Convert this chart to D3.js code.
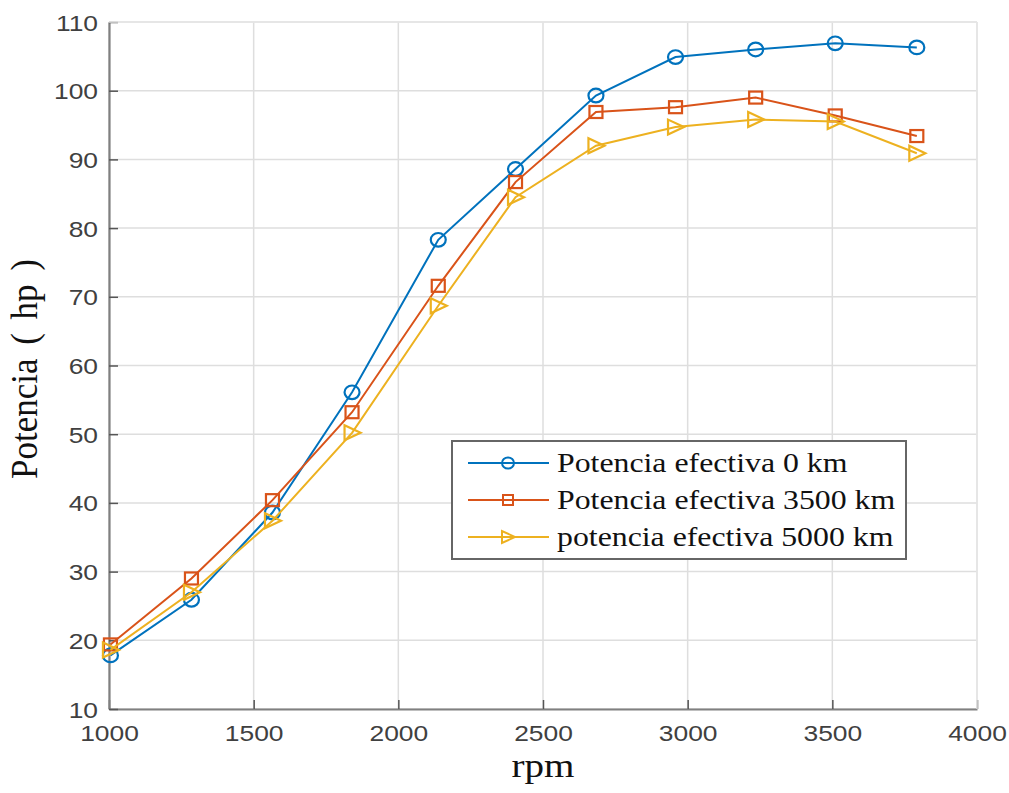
<!DOCTYPE html>
<html>
<head>
<meta charset="utf-8">
<script src="https://cdn.jsdelivr.net/npm/d3@7"></script>
<style>
  html, body { margin: 0; padding: 0; background: #fff; }
  svg { display: block; }
</style>
</head>
<body>
<div id="chart"></div>
<script>
// Engine speed (rpm) at each measurement
const rpm = [1005, 1285, 1565, 1840, 2138, 2405, 2683, 2958, 3235, 3510, 3792];
// Effective power (hp) at three mileages
const pot0km = [17.8, 25.9, 38.6, 56.1, 78.3, 88.6, 99.3, 104.9, 106.0, 106.9, 106.3];
const pot3500km = [19.4, 29.0, 40.4, 53.2, 71.6, 86.7, 96.9, 97.6, 99.0, 96.4, 93.4];
const pot5000km = [18.6, 27.0, 37.4, 50.2, 68.7, 84.5, 92.0, 94.7, 95.8, 95.5, 90.9];
const seriesNames = ["Potencia efectiva 0 km", "Potencia efectiva 3500 km", "potencia efectiva 5000 km"];
const xTicks = [1000, 1500, 2000, 2500, 3000, 3500, 4000];
const yTicks = [10, 20, 30, 40, 50, 60, 70, 80, 90, 100, 110];

const W = 1009, H = 793;
const m = { left: 109, right: 1009 - 977, top: 22, bottom: 793 - 709 };
const iw = W - m.left - m.right, ih = H - m.top - m.bottom;
const SX = 1.2; // horizontal stretch of glyphs

const svg = d3.select("#chart").append("svg").attr("width", W).attr("height", H);
const g = svg.append("g").attr("transform", `translate(${m.left},${m.top})`);

const x = d3.scaleLinear().domain([1000, 4000]).range([0, iw]);
const y = d3.scaleLinear().domain([10, 110]).range([ih, 0]);

// grid
const grid = g.append("g").attr("stroke", "#dedede").attr("stroke-width", 1.5);
grid.selectAll(".gx").data(xTicks).join("line")
  .attr("x1", d => x(d)).attr("x2", d => x(d)).attr("y1", 0).attr("y2", ih);
grid.selectAll(".gy").data(yTicks).join("line")
  .attr("y1", d => y(d)).attr("y2", d => y(d)).attr("x1", 0).attr("x2", iw);

// axes
const tickFont = "'Liberation Sans', Arial, Helvetica, sans-serif";
const xAxis = g.append("g").attr("transform", `translate(0,${ih})`)
  .call(d3.axisBottom(x).tickValues(xTicks).tickFormat(d3.format("d")).tickSizeInner(-9).tickSizeOuter(0).tickPadding(14));
const yAxis = g.append("g")
  .call(d3.axisLeft(y).tickValues(yTicks).tickFormat(d3.format("d")).tickSizeInner(-9).tickSizeOuter(0).tickPadding(11));

[xAxis, yAxis].forEach(a => {
  a.select(".domain").attr("stroke", "#808080").attr("stroke-width", 2.2);
  a.selectAll(".tick line").attr("stroke", "#555").attr("stroke-width", 1.5);
  a.selectAll(".tick text").attr("fill", "#404040").attr("font-size", 22).attr("font-family", tickFont);
});
xAxis.selectAll(".tick text").each(function () {
  const t = d3.select(this);
  const yy = +t.attr("y");
  t.attr("y", null).attr("dy", null).attr("dominant-baseline", null)
   .attr("transform", `translate(0,${yy + 18}) scale(${SX},1)`);
});
yAxis.selectAll(".tick text").each(function () {
  const t = d3.select(this);
  const xx = +t.attr("x");
  t.attr("x", null).attr("dy", null)
   .attr("transform", `translate(${xx},8) scale(${SX},1)`);
});

// axis labels
const serif = "'Liberation Serif', 'Times New Roman', Times, serif";
svg.append("text").attr("font-family", serif).attr("font-size", 34).attr("fill", "#111")
  .attr("text-anchor", "middle")
  .attr("transform", `translate(${m.left + iw / 2},777) scale(1.15,1)`)
  .text("rpm");
svg.append("text").attr("font-family", serif).attr("font-size", 35).attr("fill", "#111")
  .attr("text-anchor", "middle").attr("word-spacing", 5)
  .attr("transform", `translate(37,369) scale(1.08,1) rotate(-90)`)
  .text("Potencia ( hp )");

// series
const colors = ["#0072BD", "#D95319", "#EDB120"];
const data = [pot0km, pot3500km, pot5000km];
const markers = [
  sel => sel.append("ellipse").attr("rx", 7.5).attr("ry", 6.8),
  sel => sel.append("rect").attr("x", -6.5).attr("y", -6).attr("width", 13).attr("height", 12),
  sel => sel.append("path").attr("d", "M-7.5,-7.5L-7.5,7.5L8.5,0Z")
];
const line = d3.line().x(d => x(d[0])).y(d => y(d[1]));

data.forEach((vals, i) => {
  const pts = rpm.map((r, j) => [r, vals[j]]);
  const sg = g.append("g");
  sg.append("path").datum(pts).attr("d", line)
    .attr("fill", "none").attr("stroke", colors[i]).attr("stroke-width", 2);
  sg.selectAll("g.mk").data(pts).join("g")
    .attr("transform", d => `translate(${x(d[0])},${y(d[1])})`)
    .each(function () {
      markers[i](d3.select(this)).attr("fill", "none").attr("stroke", colors[i]).attr("stroke-width", 2.2);
    });
});

// plot frame (top/right edges)
g.append("line").attr("x1", 0).attr("x2", iw).attr("y1", 0).attr("y2", 0).attr("stroke", "#e6e6e6").attr("stroke-width", 1.5);
g.append("line").attr("x1", iw).attr("x2", iw).attr("y1", 0).attr("y2", ih).attr("stroke", "#e6e6e6").attr("stroke-width", 1.5);

// legend
const lg = svg.append("g");
lg.append("rect").attr("x", 452).attr("y", 441).attr("width", 454).attr("height", 118)
  .attr("fill", "#fff").attr("stroke", "#666").attr("stroke-width", 2);
const legMarkers = [
  sel => sel.append("ellipse").attr("rx", 6).attr("ry", 5.5),
  sel => sel.append("rect").attr("x", -5).attr("y", -5).attr("width", 10).attr("height", 10),
  sel => sel.append("path").attr("d", "M-6,-6L-6,6L7,0Z")
];
seriesNames.forEach((name, i) => {
  const cy = 463 + i * 37;
  lg.append("line").attr("x1", 468).attr("x2", 549).attr("y1", cy).attr("y2", cy)
    .attr("stroke", colors[i]).attr("stroke-width", 2);
  const mk = lg.append("g").attr("transform", `translate(508,${cy})`);
  legMarkers[i](mk).attr("fill", "none").attr("stroke", colors[i]).attr("stroke-width", 2);
  lg.append("text").attr("font-family", serif).attr("font-size", 26.5).attr("fill", "#111")
    .attr("transform", `translate(557,${cy + 9}) scale(${SX},1)`)
    .text(name);
});
</script>
</body>
</html>
